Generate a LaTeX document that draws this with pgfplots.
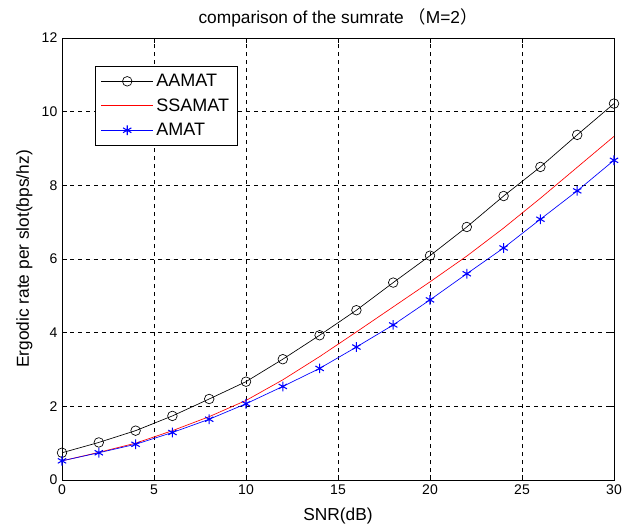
\documentclass[border=0pt]{standalone}
\usepackage{pgfplots}
\pgfplotsset{compat=1.18}
\usepackage{fontspec}
\setmainfont{Liberation Sans}
\newfontfamily\cjk{Noto Sans CJK SC}
\begin{document}
\begin{tikzpicture}
\path[use as bounding box] (0pt,0pt) rectangle (467.25pt,-396.75pt);
\begin{axis}[
  at={(46.5pt,-360pt)}, anchor=south west,
  scale only axis, width=414pt, height=331.5pt,
  xmin=0, xmax=30, ymin=0, ymax=12,
  xtick={0,5,...,30}, ytick={0,2,...,12},
  tick align=inside, major tick length=4pt,
  grid=major, major grid style={black, dashed, line width=0.5pt},
  axis line style={black, line width=0.6pt},
  tick style={black, line width=0.6pt},
  /pgf/number format/assume math mode=true,
  ticklabel style={font=\fontsize{10.5}{12}\selectfont},
  title={comparison of the sumrate {\cjk （}M=2{\cjk ）}},
  title style={font=\fontsize{13}{15}\selectfont, yshift=-1.5pt},
  xlabel={SNR(dB)}, ylabel={Ergodic rate per slot(bps/hz)},
  label style={font=\fontsize{13}{15}\selectfont},
  xlabel style={yshift=-3pt},
  ylabel style={yshift=0pt},
  legend style={at={(0.06,0.937)}, anchor=north west,
    font=\fontsize{13.5}{15}\selectfont, row sep=3.5pt, inner xsep=4pt, inner ysep=4pt,
    cells={anchor=west}},
  legend cell align=left,
  legend image code/.code={\draw[mark repeat=2,mark phase=2,#1] plot coordinates {(0cm,0cm)(0.69cm,0cm)(1.38cm,0cm)};},
]
\addplot[black, line width=0.5pt, mark=o, mark size=3.6pt, mark options={solid}] coordinates {
(0,0.74)(2,1.02)(4,1.34)(6,1.74)(8,2.20)(10,2.67)(12,3.28)(14,3.93)(16,4.61)(18,5.36)(20,6.09)(22,6.87)(24,7.71)(26,8.50)(28,9.37)(30,10.22)};
\addlegendentry{AAMAT}
\addplot[red, line width=0.5pt] coordinates {
(0,0.52)(2,0.75)(4,1.00)(6,1.34)(8,1.72)(10,2.16)(12,2.72)(14,3.35)(16,4.02)(18,4.70)(20,5.38)(22,6.08)(24,6.84)(26,7.65)(28,8.49)(30,9.33)};
\addlegendentry{SSAMAT}
\addplot[blue, line width=0.5pt, mark=asterisk, mark size=3.6pt, mark options={line width=0.8pt}] coordinates {
(0,0.52)(2,0.74)(4,0.97)(6,1.29)(8,1.65)(10,2.07)(12,2.54)(14,3.03)(16,3.61)(18,4.21)(20,4.89)(22,5.60)(24,6.30)(26,7.08)(28,7.85)(30,8.68)};
\addlegendentry{AMAT}
\end{axis}
\end{tikzpicture}
\end{document}
